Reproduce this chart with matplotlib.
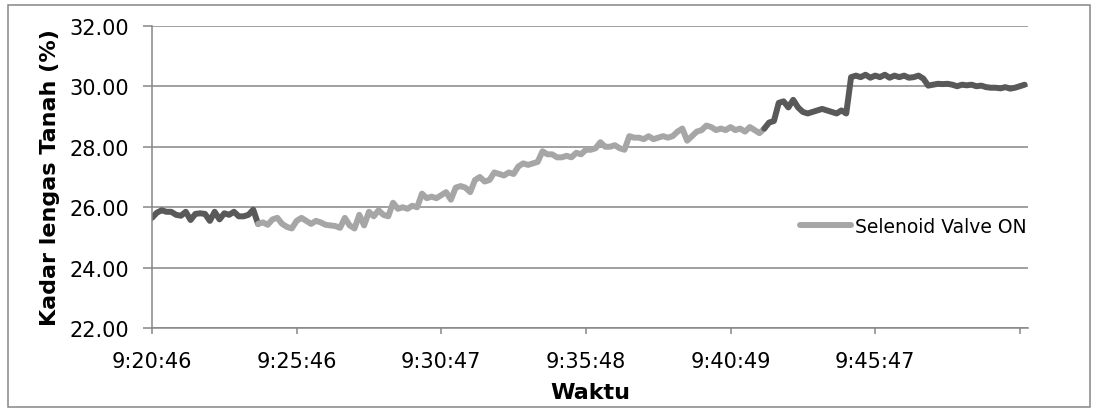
import matplotlib
matplotlib.use("Agg")
import matplotlib.pyplot as plt
from matplotlib.patches import Rectangle

# tick labels on the category axis (every 30 samples)
waktu_labels = ["9:20:46", "9:25:46", "9:30:47", "9:35:48", "9:40:49", "9:45:47", ""]
tick_every = 30

# soil moisture readings, one per sample
kadar_tanah = [
    25.65, 25.82, 25.90, 25.85, 25.85, 25.75, 25.72, 25.85, 25.58, 25.78,
    25.80, 25.78, 25.55, 25.85, 25.60, 25.80, 25.75, 25.85, 25.70, 25.70,
    25.75, 25.92, 25.45, 25.50, 25.42, 25.60, 25.65, 25.45, 25.35, 25.30,
    25.55, 25.65, 25.55, 25.45, 25.55, 25.50, 25.42, 25.40, 25.38, 25.32,
    25.65, 25.40, 25.30, 25.75, 25.40, 25.85, 25.70, 25.90, 25.75, 25.70,
    26.15, 25.95, 26.00, 25.95, 26.05, 26.00, 26.45, 26.30, 26.35, 26.30,
    26.40, 26.50, 26.25, 26.65, 26.70, 26.65, 26.50, 26.90, 27.00, 26.85,
    26.90, 27.15, 27.10, 27.05, 27.15, 27.10, 27.35, 27.45, 27.40, 27.45,
    27.50, 27.85, 27.75, 27.75, 27.65, 27.65, 27.70, 27.65, 27.80, 27.75,
    27.90, 27.90, 27.95, 28.15, 28.00, 28.00, 28.05, 27.95, 27.90, 28.35,
    28.30, 28.30, 28.25, 28.35, 28.25, 28.30, 28.35, 28.30, 28.35, 28.50,
    28.60, 28.20, 28.35, 28.50, 28.55, 28.70, 28.65, 28.55, 28.60, 28.55,
    28.65, 28.55, 28.60, 28.50, 28.65, 28.55, 28.45, 28.60, 28.80, 28.85,
    29.45, 29.50, 29.30, 29.55, 29.30, 29.15, 29.10, 29.15, 29.20, 29.25,
    29.20, 29.15, 29.10, 29.20, 29.10, 30.30, 30.35, 30.30, 30.38, 30.28,
    30.35, 30.30, 30.38, 30.28, 30.35, 30.30, 30.35, 30.28, 30.30, 30.35,
    30.25, 30.02, 30.05, 30.08, 30.07, 30.08, 30.05, 30.00, 30.05, 30.03,
    30.05, 30.00, 30.02, 29.97, 29.95, 29.95, 29.93, 29.97, 29.92, 29.95,
    30.00, 30.05,
]

# samples where the selenoid valve was on
valve_on_start = 22
valve_on_end = 127

dark = "#595959"
light = "#a6a6a6"
grid = "#868686"

n = len(kadar_tanah)
idx = list(range(n))

plt.rcParams["font.family"] = "DejaVu Sans"
fig = plt.figure(figsize=(10.96, 4.10), dpi=100)
ax = fig.add_axes([152 / 1096, 1 - 329.3 / 410, 876 / 1096, 302.6 / 410])

lw = 4.3
ax.plot(idx[:valve_on_start + 1], kadar_tanah[:valve_on_start + 1], color=dark, lw=lw,
        solid_capstyle="round", solid_joinstyle="round")
ax.plot(idx[valve_on_start:valve_on_end + 1], kadar_tanah[valve_on_start:valve_on_end + 1],
        color=light, lw=lw, solid_capstyle="round", solid_joinstyle="round",
        label="Selenoid Valve ON")
ax.plot(idx[valve_on_end:], kadar_tanah[valve_on_end:], color=dark, lw=lw,
        solid_capstyle="round", solid_joinstyle="round")

ax.set_ylim(22, 32)
ax.set_xlim(0, 181.7)
ax.set_yticks([22, 24, 26, 28, 30, 32])
ax.set_yticklabels(["%.2f" % v for v in [22, 24, 26, 28, 30, 32]])
ax.set_xticks([i * tick_every for i in range(len(waktu_labels))])
ax.set_xticklabels(waktu_labels)

ax.grid(axis="y", color=grid, lw=1.1)
ax.set_axisbelow(True)
for s in ["top", "right"]:
    ax.spines[s].set_visible(False)
for s in ["left", "bottom"]:
    ax.spines[s].set_color(grid)
    ax.spines[s].set_linewidth(1.1)
ax.tick_params(axis="y", length=6.5, width=1.1, color=grid, pad=10, labelsize=15)
ax.tick_params(axis="x", length=4.5, width=1.1, color=grid, pad=12, labelsize=15)

ax.set_ylabel("Kadar lengas Tanah (%)", fontsize=16, fontweight="bold", labelpad=7)
ax.set_xlabel("Waktu", fontsize=16, fontweight="bold", labelpad=8)

ax.legend(loc="center left", bbox_to_anchor=(0.74, 0.338), frameon=False,
          borderpad=0, borderaxespad=0, handlelength=2.7, handletextpad=0.2,
          fontsize=13.5)

fig.patches.append(Rectangle((8 / 1096, 2 / 410), 1082 / 1096, 402 / 410,
                             transform=fig.transFigure, fill=False,
                             edgecolor=grid, lw=1.1))

plt.savefig("out.png", dpi=100)
